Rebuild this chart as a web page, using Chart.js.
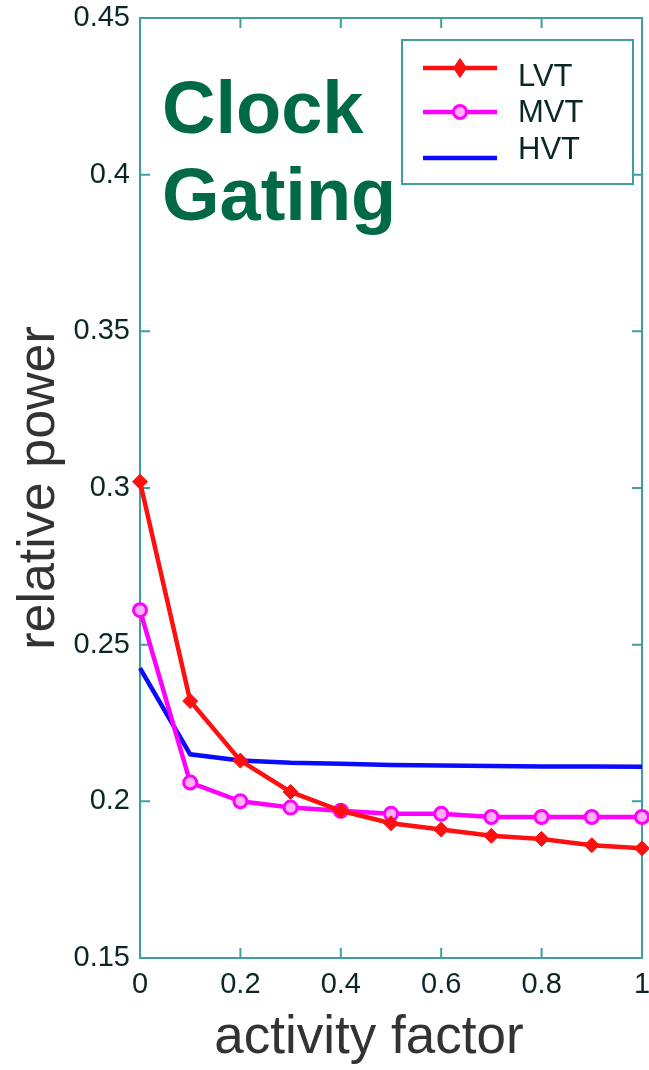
<!DOCTYPE html>
<html>
<head>
<meta charset="utf-8">
<title>Clock Gating</title>
<script src="https://cdn.jsdelivr.net/npm/chart.js@4.4.0/dist/chart.umd.min.js"></script>
<style>
    body { margin: 0; background: #fff; }
    canvas { display: block; }
</style>
</head>
<body>
<canvas id="clock-gating" width="649" height="1070"></canvas>
<script>
// values
const activity = [0, 0.1, 0.2, 0.3, 0.4, 0.5, 0.6, 0.7, 0.8, 0.9, 1];
const lvt = [0.302, 0.232, 0.213, 0.203, 0.197, 0.193, 0.191, 0.189, 0.188, 0.186, 0.185];
const mvt = [0.261, 0.206, 0.2, 0.198, 0.197, 0.196, 0.196, 0.195, 0.195, 0.195, 0.195];
const hvt = [0.2425, 0.215, 0.213, 0.2123, 0.212, 0.2116, 0.2114, 0.2113, 0.2111, 0.2111, 0.211];
const seriesNames = ["LVT", "MVT", "HVT"];
const xTicks = [0, 0.2, 0.4, 0.6, 0.8, 1];
const yTicks = [0.15, 0.2, 0.25, 0.3, 0.35, 0.4, 0.45];
const xTickLabels = ["0", "0.2", "0.4", "0.6", "0.8", "1"];
const yTickLabels = ["0.15", "0.2", "0.25", "0.3", "0.35", "0.4", "0.45"];
const note = ["Clock", "Gating"];

const frameColor = "#3f9f9f";
const labelColor = "#0b2626";
const fontFamily = "'Liberation Sans', Arial, sans-serif";

function toPoints(ys) {
    return ys.map((v, i) => ({ x: activity[i], y: v }));
}

// box around the plot with inward ticks on all four sides
const framePlugin = {
    id: "frame",
    beforeDatasetsDraw(chart) {
        const { ctx, chartArea: a, scales } = chart;
        ctx.save();
        ctx.strokeStyle = frameColor;
        ctx.lineWidth = 2;
        ctx.strokeRect(a.left, a.top, a.right - a.left, a.bottom - a.top);
        ctx.beginPath();
        xTicks.slice(1, -1).forEach(v => {
            const px = scales.x.getPixelForValue(v);
            ctx.moveTo(px, a.bottom); ctx.lineTo(px, a.bottom - 10);
            ctx.moveTo(px, a.top); ctx.lineTo(px, a.top + 10);
        });
        yTicks.slice(1, -1).forEach(v => {
            const py = scales.y.getPixelForValue(v);
            ctx.moveTo(a.left, py); ctx.lineTo(a.left + 10, py);
            ctx.moveTo(a.right, py); ctx.lineTo(a.right - 10, py);
        });
        ctx.stroke();
        ctx.restore();
    },
};

function drawMarker(ctx, ds, x, y) {
    if (!ds.pointRadius) return;
    const r = ds.pointRadius;
    ctx.beginPath();
    if (ds.pointStyle === "rectRot") {
        ctx.moveTo(x, y - r - 2); ctx.lineTo(x + r - 1, y); ctx.lineTo(x, y + r + 2); ctx.lineTo(x - r + 1, y);
        ctx.closePath();
    } else {
        ctx.arc(x, y, r, 0, Math.PI * 2);
    }
    ctx.fillStyle = ds.pointBackgroundColor;
    ctx.fill();
    ctx.lineWidth = ds.pointBorderWidth;
    ctx.strokeStyle = ds.borderColor;
    ctx.stroke();
}

// legend box in the top right corner + the "Clock Gating" note
const overlayPlugin = {
    id: "overlay",
    afterDatasetsDraw(chart) {
        const ctx = chart.ctx;
        ctx.save();

        ctx.strokeStyle = frameColor;
        ctx.lineWidth = 2;
        ctx.fillStyle = "#fff";
        ctx.fillRect(402, 40, 231, 144);
        ctx.strokeRect(402, 40, 231, 144);

        const lineY = [68, 112, 158];
        const textY = [77, 113, 150];
        chart.data.datasets.forEach((ds, i) => {
            ctx.strokeStyle = ds.borderColor;
            ctx.lineWidth = ds.borderWidth;
            ctx.beginPath();
            ctx.moveTo(423, lineY[i]);
            ctx.lineTo(497, lineY[i]);
            ctx.stroke();
            drawMarker(ctx, ds, 460, lineY[i]);
            ctx.fillStyle = labelColor;
            ctx.font = "31px " + fontFamily;
            ctx.textBaseline = "middle";
            ctx.fillText(ds.label, 518, textY[i]);
        });

        ctx.fillStyle = "#006a46";
        ctx.font = "bold 74px " + fontFamily;
        ctx.textBaseline = "alphabetic";
        ctx.fillText(note[0], 162, 133);
        ctx.fillText(note[1], 162, 220);
        ctx.restore();
    },
};

function createClockGatingChart() {
    const canvas = document.querySelector("#clock-gating");

    let options = {
        type: "line",
        data: {
            datasets: [
                {
                    label: seriesNames[0],
                    data: toPoints(lvt),
                    borderColor: "#ff1010",
                    backgroundColor: "#ff1010",
                    pointBackgroundColor: "#ff1010",
                    borderWidth: 4.5,
                    pointStyle: "rectRot",
                    pointRadius: 7.5,
                    pointBorderWidth: 1,
                    clip: false,
                },
                {
                    label: seriesNames[1],
                    data: toPoints(mvt),
                    borderColor: "#ff00ff",
                    backgroundColor: "#ff00ff",
                    pointBackgroundColor: "#ffb0ff",
                    borderWidth: 4.5,
                    pointStyle: "circle",
                    pointRadius: 6.5,
                    pointBorderWidth: 3,
                    clip: false,
                },
                {
                    label: seriesNames[2],
                    data: toPoints(hvt),
                    borderColor: "#0a0aff",
                    backgroundColor: "#0a0aff",
                    borderWidth: 4.5,
                    pointRadius: 0,
                    clip: false,
                },
            ],
        },
        options: {
            responsive: false,
            animation: false,
            layout: {
                // markers at x = 1 sit on the frame, so no extra room for them
                autoPadding: false,
                padding: { top: 18, right: 7, left: 0, bottom: 0 },
            },
            scales: {
                x: {
                    type: "linear",
                    min: 0,
                    max: 1,
                    grid: { display: false, drawTicks: false },
                    border: { display: false },
                    afterBuildTicks: s => { s.ticks = xTicks.map(v => ({ value: v })); },
                    afterFit: s => { s.height = 112; s.paddingLeft = 0; s.paddingRight = 0; },
                    ticks: {
                        autoSkip: false,
                        maxRotation: 0,
                        padding: 10,
                        color: labelColor,
                        font: { family: fontFamily, size: 29 },
                        callback: (v, i) => xTickLabels[i],
                    },
                    title: {
                        display: true,
                        // trailing spaces pull the centred title a bit to the left, like the original
                        text: "activity factor   ",
                        color: "#333",
                        padding: 0,
                        font: { family: fontFamily, size: 53, lineHeight: 1.2 },
                    },
                },
                y: {
                    type: "linear",
                    min: 0.15,
                    max: 0.45,
                    grid: { display: false, drawTicks: false },
                    border: { display: false },
                    afterBuildTicks: s => { s.ticks = yTicks.map(v => ({ value: v })); },
                    afterFit: s => { s.width = 140; s.paddingTop = 0; s.paddingBottom = 0; },
                    ticks: {
                        padding: 10,
                        color: labelColor,
                        font: { family: fontFamily, size: 29 },
                        callback: (v, i) => yTickLabels[i],
                    },
                    title: {
                        display: true,
                        text: "relative power",
                        color: "#333",
                        padding: { top: 8, bottom: 0 },
                        font: { family: fontFamily, size: 52, lineHeight: 1.2 },
                    },
                },
            },
            plugins: {
                legend: { display: false },
                tooltip: { enabled: false },
            },
        },
        plugins: [framePlugin, overlayPlugin],
    };

    const chart = new Chart(canvas.getContext("2d"), options);
}

createClockGatingChart();
</script>
</body>
</html>
